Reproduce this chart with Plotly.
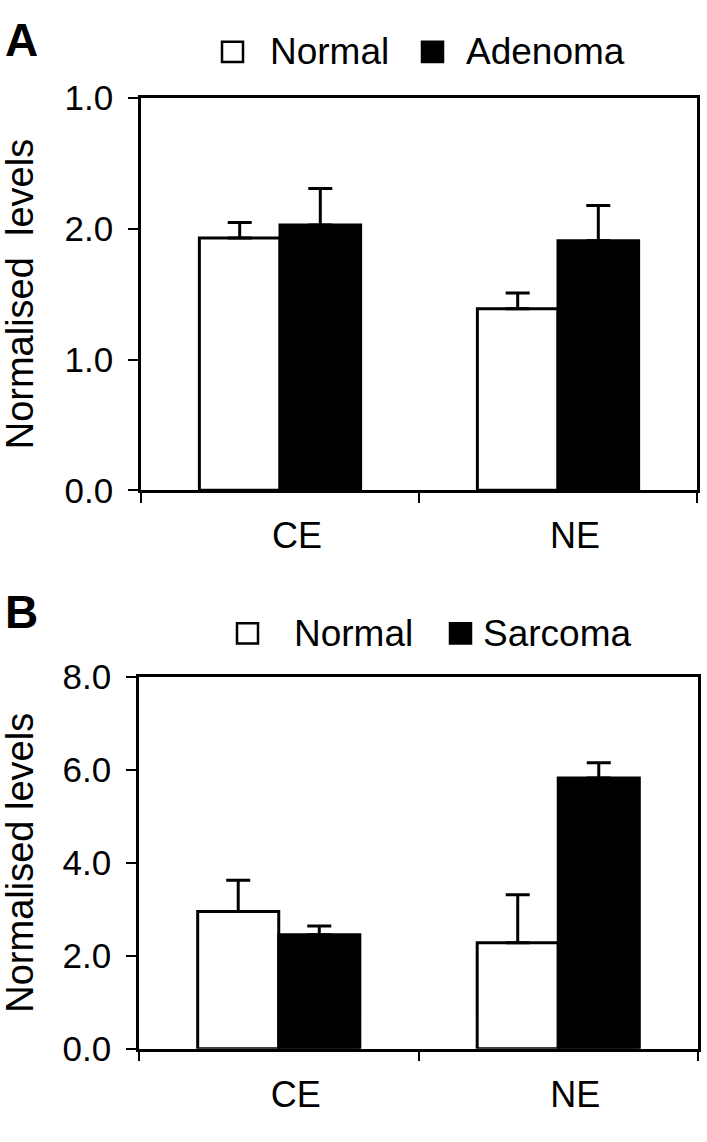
import plotly.graph_objects as go

categories = ["CE", "NE"]

# Panel A
a_normal = [1.93, 1.39]
a_normal_err = [0.12, 0.12]
a_adenoma = [2.03, 1.91]
a_adenoma_err = [0.28, 0.27]
a_tickvals = [0, 1, 2, 3]
a_ticktext = ["0.0", "1.0", "2.0", "1.0"]

# Panel B
b_normal = [2.95, 2.28]
b_normal_err = [0.67, 1.03]
b_sarcoma = [2.45, 5.82]
b_sarcoma_err = [0.19, 0.33]
b_tickvals = [0, 2, 4, 6, 8]
b_ticktext = ["0.0", "2.0", "4.0", "6.0", "8.0"]

W, H = 707, 1142
FONT = "Liberation Sans, Arial, sans-serif"


def px(x):
    return x / W


def py(y):
    return 1 - y / H


def bar(name, cats, vals, errs, fill, xa, ya):
    return go.Bar(
        name=name, x=cats, y=vals, xaxis=xa, yaxis=ya,
        marker=dict(color=fill, line=dict(color="black", width=3)),
        error_y=dict(type="data", symmetric=False, array=errs,
                     arrayminus=[0] * len(errs), color="black",
                     thickness=3, width=12),
        showlegend=False,
    )


fig = go.Figure()
fig.add_trace(bar("Normal", categories, a_normal, a_normal_err, "white", "x", "y"))
fig.add_trace(bar("Adenoma", categories, a_adenoma, a_adenoma_err, "black", "x", "y"))
fig.add_trace(bar("Normal", categories, b_normal, b_normal_err, "white", "x2", "y2"))
fig.add_trace(bar("Sarcoma", categories, b_sarcoma, b_sarcoma_err, "black", "x2", "y2"))

xcommon = dict(showline=True, linecolor="black", linewidth=2.5, mirror=True,
               ticks="outside", ticklen=10, tickwidth=2, tickcolor="black",
               tickson="boundaries", showgrid=False,
               tickfont=dict(family=FONT, size=36, color="black"),
               ticklabelstandoff=12, ticklabelshift=17, fixedrange=True)
ycommon = dict(showline=True, linecolor="black", linewidth=2.5, mirror=True,
               ticks="outside", ticklen=10, tickwidth=2, tickcolor="black",
               showgrid=False, zeroline=False,
               tickfont=dict(family=FONT, size=35, color="black"),
               ticklabelstandoff=8, fixedrange=True)

fig.update_layout(
    width=W, height=H,
    margin=dict(l=0, r=0, t=0, b=0),
    paper_bgcolor="white", plot_bgcolor="white",
    barmode="group", bargap=0.42, bargroupgap=0,
    font=dict(family=FONT, color="black"),
    xaxis=dict(domain=[px(141), px(697)], anchor="y", **xcommon),
    yaxis=dict(domain=[py(487), py(81)], anchor="x", range=[0, 3],
               tickvals=a_tickvals, ticktext=a_ticktext, **ycommon),
    xaxis2=dict(domain=[px(139), px(698)], anchor="y2", **xcommon),
    yaxis2=dict(domain=[py(1065), py(680)], anchor="x2", range=[0, 8],
                tickvals=b_tickvals, ticktext=b_ticktext, **ycommon),
)

# Panel letters
for txt, y in [("A", 21), ("B", 613)]:
    fig.add_annotation(text=f"<b>{txt}</b>", x=px(3), y=py(y), xref="paper", yref="paper",
                       xanchor="left", yanchor="middle", showarrow=False,
                       font=dict(family="Liberation Sans", size=46, color="black"))

# Y titles
for label, y in [("Normalised\u00a0 levels", (81 + 487) / 2), ("Normalised levels", (680 + 1065) / 2)]:
    fig.add_annotation(text=label, x=px(20), y=py(y), xref="paper", yref="paper",
                       xanchor="center", yanchor="middle", textangle=-90, showarrow=False,
                       font=dict(family=FONT, size=38, color="black"))

# Legends (drawn as shapes + text)
legends = [
    (33, [(222, "white", "Normal", 268), (422, "black", "Adenoma", 464)]),
    (635, [(237, "white", "Normal", 292), (450, "black", "Sarcoma", 481)]),
]
for yc, items in legends:
    for x0, fill, label, tx in items:
        fig.add_shape(type="rect", xref="paper", yref="paper",
                      x0=px(x0), x1=px(x0 + 21), y0=py(yc + 10.5), y1=py(yc - 10.5),
                      fillcolor=fill, line=dict(color="black", width=2.5))
        fig.add_annotation(text=label, x=px(tx), y=py(yc), xref="paper", yref="paper",
                           xanchor="left", yanchor="middle", showarrow=False,
                           font=dict(family=FONT, size=37, color="black"))

fig.write_html("out.html", config={"displayModeBar": False},
               post_script="document.body.style.margin='0';document.body.style.overflow='hidden';")
